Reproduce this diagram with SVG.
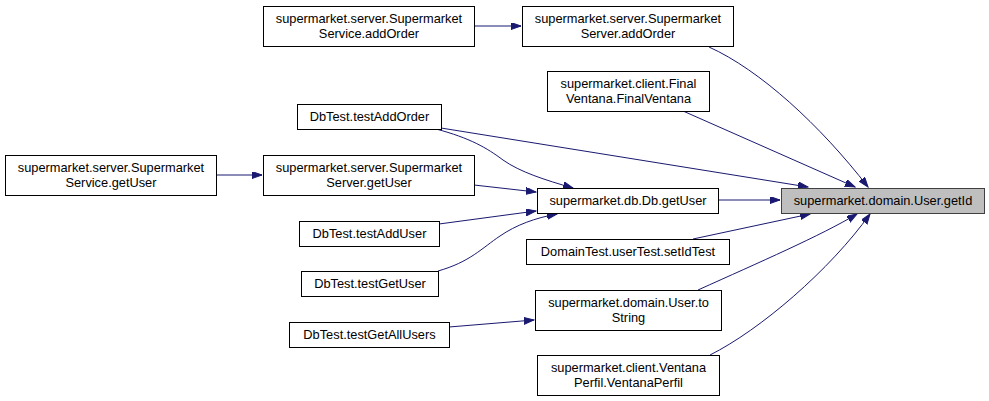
<svg xmlns="http://www.w3.org/2000/svg" width="989" height="401" viewBox="0 0 989 401">
<style>
  .n rect { fill: #ffffff; stroke: #000000; stroke-width: 1; }
  .n.root rect { fill: #bfbfbf; stroke: #404040; }
  .n text { font-family: "Liberation Sans", Arial, sans-serif; font-size: 12.8px; fill: #000000; text-anchor: middle; }
  .e path { fill: none; stroke: #191970; stroke-width: 1; marker-end: url(#ah); }
</style>
<defs>
  <marker id="ah" markerUnits="userSpaceOnUse" markerWidth="11" markerHeight="8" refX="10" refY="3.5" orient="auto">
    <path d="M0,0 L10,3.5 L0,7 z" fill="#191970" stroke="#191970" stroke-width="1"/>
  </marker>
</defs>
<rect width="989" height="401" fill="#ffffff"/>
<g id="edges" class="e">
  <path d="M474,26 L521,26"/>
  <path d="M216,175 L262,175"/>
  <path d="M718,200 L780,200"/>
  <path d="M449,327 L534,320"/>
  <path d="M474,185 L536,192"/>
  <path d="M439,224 L536,211"/>
  <path d="M438,271 C470,262 482,248 500,236 C516,225 535,218 557,214"/>
  <path d="M436,129 C470,138 487,148 503,160 C520,172 545,180 573,188"/>
  <path d="M441,128 L808,187"/>
  <path d="M683,111 L855,187"/>
  <path d="M709,47 C760,70 820,125 868,187"/>
  <path d="M693,239 L810,214"/>
  <path d="M698,290 C760,262 820,236 857,214"/>
  <path d="M710,355 C760,330 830,270 870,214"/>
</g>
<g id="node-getId" class="n root">
  <rect x="781.5" y="188.5" width="203" height="25"/>
  <text x="883" y="205">supermarket.domain.User.getId</text>
</g>
<g id="node-db-getUser" class="n">
  <rect x="537.5" y="188.5" width="181" height="25"/>
  <text x="628" y="205">supermarket.db.Db.getUser</text>
</g>
<g id="node-server-addOrder" class="n">
  <rect x="522.5" y="6.5" width="211" height="40"/>
  <text x="628" y="23">supermarket.server.Supermarket</text>
  <text x="628" y="38">Server.addOrder</text>
</g>
<g id="node-service-addOrder" class="n">
  <rect x="263.5" y="6.5" width="211" height="40"/>
  <text x="369" y="23">supermarket.server.Supermarket</text>
  <text x="369" y="38">Service.addOrder</text>
</g>
<g id="node-finalVentana" class="n">
  <rect x="547.5" y="71.5" width="162" height="40"/>
  <text x="628.5" y="88">supermarket.client.Final</text>
  <text x="628.5" y="103">Ventana.FinalVentana</text>
</g>
<g id="node-testAddOrder" class="n">
  <rect x="297.5" y="104.5" width="144" height="25"/>
  <text x="369.5" y="121">DbTest.testAddOrder</text>
</g>
<g id="node-server-getUser" class="n">
  <rect x="263.5" y="155.5" width="211" height="40"/>
  <text x="369" y="172">supermarket.server.Supermarket</text>
  <text x="369" y="187">Server.getUser</text>
</g>
<g id="node-service-getUser" class="n">
  <rect x="5.5" y="155.5" width="211" height="40"/>
  <text x="111" y="172">supermarket.server.Supermarket</text>
  <text x="111" y="187">Service.getUser</text>
</g>
<g id="node-testAddUser" class="n">
  <rect x="299.5" y="221.5" width="140" height="25"/>
  <text x="369.5" y="238">DbTest.testAddUser</text>
</g>
<g id="node-testGetUser" class="n">
  <rect x="301.5" y="271.5" width="137" height="25"/>
  <text x="370" y="288">DbTest.testGetUser</text>
</g>
<g id="node-testGetAllUsers" class="n">
  <rect x="289.5" y="322.5" width="160" height="25"/>
  <text x="369.5" y="339">DbTest.testGetAllUsers</text>
</g>
<g id="node-setIdTest" class="n">
  <rect x="526.5" y="239.5" width="203" height="25"/>
  <text x="628" y="256">DomainTest.userTest.setIdTest</text>
</g>
<g id="node-toString" class="n">
  <rect x="535.5" y="290.5" width="186" height="40"/>
  <text x="628.5" y="307">supermarket.domain.User.to</text>
  <text x="628.5" y="322">String</text>
</g>
<g id="node-ventanaPerfil" class="n">
  <rect x="537.5" y="355.5" width="182" height="40"/>
  <text x="628.5" y="372">supermarket.client.Ventana</text>
  <text x="628.5" y="387">Perfil.VentanaPerfil</text>
</g>
</svg>
